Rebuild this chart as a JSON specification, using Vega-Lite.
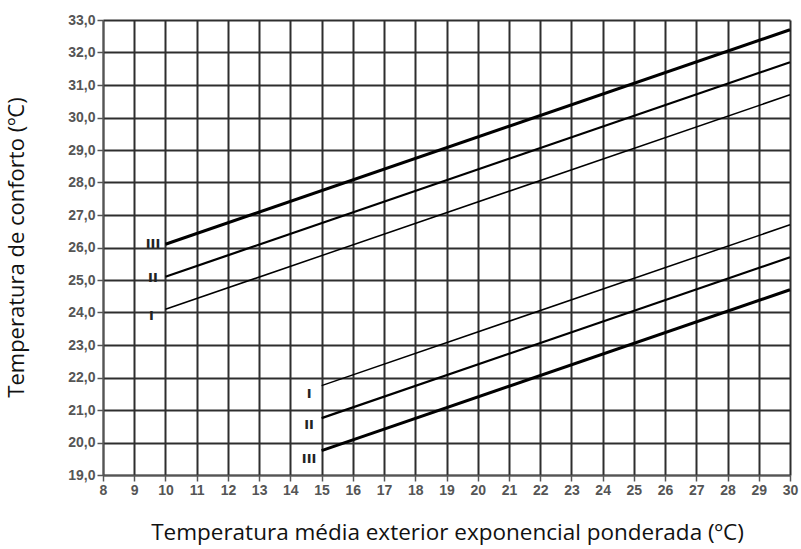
{
  "$schema": "https://vega.github.io/schema/vega-lite/v6.json",
  "width": 687,
  "height": 455,
  "autosize": {"type": "none"},
  "padding": {"left": 103, "top": 20, "right": 11, "bottom": 74},
  "background": "white",
  "config": {"view": {"stroke": null}},
  "datasets": {
    "lines": [
      {"serie": "upper III", "cat": "III", "x": 10, "y": 26.1},
      {"serie": "upper III", "cat": "III", "x": 30, "y": 32.7},
      {"serie": "upper II", "cat": "II", "x": 10, "y": 25.1},
      {"serie": "upper II", "cat": "II", "x": 30, "y": 31.7},
      {"serie": "upper I", "cat": "I", "x": 10, "y": 24.1},
      {"serie": "upper I", "cat": "I", "x": 30, "y": 30.7},
      {"serie": "lower I", "cat": "I", "x": 15, "y": 21.75},
      {"serie": "lower I", "cat": "I", "x": 30, "y": 26.7},
      {"serie": "lower II", "cat": "II", "x": 15, "y": 20.75},
      {"serie": "lower II", "cat": "II", "x": 30, "y": 25.7},
      {"serie": "lower III", "cat": "III", "x": 15, "y": 19.75},
      {"serie": "lower III", "cat": "III", "x": 30, "y": 24.7}
    ],
    "labels": [
      {"x": 9.6, "y": 26.1, "t": "III"},
      {"x": 9.6, "y": 25.05, "t": "II"},
      {"x": 9.55, "y": 23.9, "t": "I"},
      {"x": 14.6, "y": 21.5, "t": "I"},
      {"x": 14.6, "y": 20.55, "t": "II"},
      {"x": 14.6, "y": 19.5, "t": "III"}
    ]
  },
  "encoding": {
    "x": {
      "field": "x", "type": "quantitative",
      "scale": {"domain": [8, 30], "nice": false, "zero": false},
      "axis": {
        "values": [8,9,10,11,12,13,14,15,16,17,18,19,20,21,22,23,24,25,26,27,28,29,30],
        "format": "d",
        "labelOverlap": false, "labelBound": false, "labelFlush": false,
        "grid": true, "gridColor": "#2e2e2e", "gridWidth": 2, "gridOpacity": 1,
        "domainColor": "#555", "domainWidth": 1.5,
        "tickColor": "#555", "tickSize": 6, "tickWidth": 1.5,
        "labelFont": "Liberation Sans", "labelFontSize": 14, "labelFontWeight": "bold", "labelColor": "#555", "labelPadding": 2,
        "title": "Temperatura média exterior exponencial ponderada (ºC)",
        "titleFont": "Open Sans", "titleFontSize": 22.5, "titleFontWeight": "normal", "titleColor": "#111",
        "titleX": 344, "titleY": 57, "titleBaseline": "middle", "titleAlign": "center"
      }
    },
    "y": {
      "field": "y", "type": "quantitative",
      "scale": {"domain": [19, 33], "nice": false, "zero": false},
      "axis": {
        "values": [19,20,21,22,23,24,25,26,27,28,29,30,31,32,33],
        "format": ".1f",
        "labelExpr": "replace(datum.label, '.', ',')",
        "labelOverlap": false, "labelBound": false, "labelFlush": false,
        "grid": true, "gridColor": "#2e2e2e", "gridWidth": 2, "gridOpacity": 1,
        "domainColor": "#555", "domainWidth": 1.5,
        "tickColor": "#555", "tickSize": 6, "tickWidth": 1.5,
        "labelFont": "Liberation Sans", "labelFontSize": 14, "labelFontWeight": "bold", "labelColor": "#555", "labelPadding": 2,
        "title": "Temperatura de conforto (ºC)",
        "titleFont": "Open Sans", "titleFontSize": 22, "titleFontWeight": "normal", "titleColor": "#111",
        "titleX": -87, "titleY": 227, "titleBaseline": "middle", "titleAlign": "center", "titleAngle": 270
      }
    }
  },
  "layer": [
    {
      "data": {"name": "lines"},
      "mark": {"type": "line", "color": "black", "strokeCap": "butt"},
      "encoding": {
        "detail": {"field": "serie"},
        "strokeWidth": {
          "field": "cat", "type": "nominal",
          "scale": {"domain": ["I", "II", "III"], "range": [1.5, 3, 5]},
          "legend": null
        }
      }
    },
    {
      "data": {"name": "labels"},
      "mark": {"type": "text", "font": "DejaVu Sans", "fontWeight": "bold", "fontSize": 13, "color": "#222", "align": "center", "baseline": "middle"},
      "encoding": {
        "text": {"field": "t"}
      }
    }
  ]
}
